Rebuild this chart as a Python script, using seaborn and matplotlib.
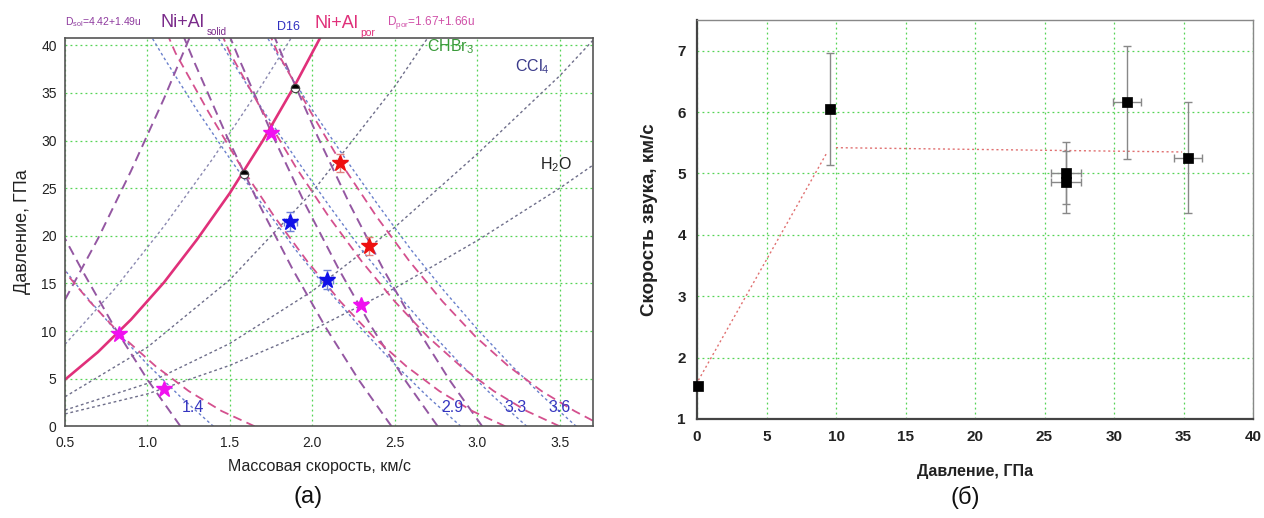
import matplotlib
matplotlib.use('Agg')
import matplotlib.pyplot as plt
from matplotlib.ticker import MultipleLocator
import seaborn as sns

# ---------------- (a) P-u diagram: u in km/s, P in GPa ----------------
# Ni+Al porous Hugoniot (solid pink line)
por_hug_u = [0.5, 0.7, 0.9, 1.1, 1.3, 1.5, 1.7, 1.9, 2.06]
por_hug_p = [4.9, 7.8, 11.2, 15.1, 19.6, 24.5, 30.0, 36.0, 41.2]

# Ni+Al solid Hugoniot (rising purple dashed)
sol_hug_u = [0.5, 0.7, 0.9, 1.1, 1.27]
sol_hug_p = [13.3, 19.7, 26.8, 34.4, 41.4]

# D16 Hugoniot and window liquids (rising dotted)
d16_hug_u = [0.5, 0.8, 1.1, 1.4, 1.7, 1.88]
d16_hug_p = [8.6, 14.4, 21.0, 28.2, 36.0, 41.0]
chbr3_u = [0.5, 1.0, 1.5, 2.0, 2.5, 2.72]
chbr3_p = [3.1, 8.3, 15.4, 24.6, 35.7, 41.3]
ccl4_u = [0.5, 1.0, 1.5, 2.0, 2.5, 3.0, 3.5, 3.7]
ccl4_p = [1.7, 4.5, 8.7, 14.2, 20.9, 28.6, 36.8, 40.5]
h2o_u = [0.5, 1.0, 1.5, 2.0, 2.5, 3.0, 3.5, 3.7]
h2o_p = [1.3, 3.4, 6.4, 10.1, 14.5, 19.5, 25.0, 27.4]

# D16 impactor curves for W = 1.4, 2.9, 3.3, 3.6 km/s (blue dotted)
d16_w14_u = [1.4, 1.2, 1.0, 0.8, 0.6, 0.5]
d16_w14_p = [0.0, 3.1, 6.5, 10.2, 14.2, 16.4]
d16_w29_u = [2.9, 2.7, 2.5, 2.3, 2.1, 1.9, 1.7, 1.5, 1.3, 1.1, 1.0]
d16_w33_u = [3.3, 3.1, 2.9, 2.7, 2.5, 2.3, 2.1, 1.9, 1.7, 1.5, 1.4]
d16_w36_u = [3.6, 3.4, 3.2, 3.0, 2.8, 2.6, 2.4, 2.2, 2.0, 1.8, 1.7]
d16_w_p = [0.0, 3.1, 6.5, 10.2, 14.2, 18.5, 23.2, 28.1, 33.2, 38.7, 41.6]

# Ni+Al solid release curves (purple dashed)
sol_r1_u = [1.2, 1.0, 0.8, 0.6, 0.5]
sol_r1_p = [0.0, 4.9, 10.4, 16.5, 19.7]
sol_r2_u = [2.48, 2.28, 2.08, 1.88, 1.68, 1.48, 1.28, 1.22]
sol_r3_u = [2.76, 2.56, 2.36, 2.16, 1.96, 1.76, 1.56, 1.50]
sol_r4_u = [3.03, 2.83, 2.63, 2.43, 2.23, 2.03, 1.83, 1.77]
sol_r_p = [0.0, 4.9, 10.4, 16.5, 23.2, 30.5, 38.4, 40.9]

# Ni+Al porous release curves (pink dashed)
por_r1_u = [1.65, 1.45, 1.25, 1.05, 0.85, 0.65, 0.5]
por_r1_p = [0.0, 1.6, 3.7, 6.3, 9.4, 13.1, 16.2]
por_r2_u = [3.17, 2.97, 2.77, 2.57, 2.37, 2.17, 1.97, 1.77, 1.57, 1.37, 1.17, 1.12]
por_r3_u = [3.50, 3.30, 3.10, 2.90, 2.70, 2.50, 2.30, 2.10, 1.90, 1.70, 1.50, 1.45]
por_r_p = [0.0, 1.6, 3.7, 6.3, 9.4, 13.1, 17.3, 22.0, 27.2, 33.0, 39.2, 41.2]
por_r4_u = [3.70, 3.59, 3.39, 3.19, 2.99, 2.79, 2.59, 2.39, 2.19, 1.99, 1.79, 1.74]
por_r4_p = [0.6, 1.6, 3.7, 6.3, 9.4, 13.1, 17.3, 22.0, 27.2, 33.0, 39.2, 41.2]

# measured points
mag_u = [0.825, 1.101, 1.751, 2.294]
mag_p = [9.66, 3.88, 30.8, 12.74]
blue_u = [1.866, 2.087]
blue_p = [21.46, 15.37]
blue_du = [0.04, 0.04]
blue_dp = [1.0, 1.0]
red_u = [2.167, 2.345]
red_p = [27.62, 18.94]
red_dp = [0.95, 0.95]
state_u = [1.584, 1.896]
state_p = [26.54, 35.57]

flyer_labels = ['1.4', '2.9', '3.3', '3.6']

# ---------------- (б) sound speed vs pressure ----------------
p_gpa = [0.05, 9.6, 26.55, 26.55, 30.95, 35.3]
c_kms = [1.53, 6.05, 5.01, 4.86, 6.16, 5.26]
p_err = [0, 0, 1.05, 1.05, 1.0, 1.0]
c_err = [0, 0.92, 0.5, 0.5, 0.92, 0.9]
fit1_x = [0.1, 9.3]
fit1_y = [1.63, 5.32]
fit2_x = [10.0, 34.9]
fit2_y = [5.42, 5.35]

sns.set_theme(style='white')
plt.rcParams['font.family'] = ['Liberation Sans', 'DejaVu Sans']
plt.rcParams['mathtext.fontset'] = 'custom'
plt.rcParams['mathtext.rm'] = 'Liberation Sans'

W, H = 1264, 518
fig = plt.figure(figsize=(W / 100, H / 100), dpi=100)
fig.patch.set_facecolor('white')


def px(x, y):
    return x / W, 1 - y / H


def curve(ax, u, p, color, ls, lw):
    sns.lineplot(x=u, y=p, ax=ax, color=color, ls=ls, lw=lw,
                 sort=False, estimator=None, legend=False)


GRID = '#55d455'
PURPLE = '#9457a2'
PINK = '#d4508e'
BLUE_DOT = '#6a80cc'
GRAY_DOT = '#6e6e8a'

ax1 = fig.add_axes([65 / W, 1 - 426.3 / H, (592.7 - 65) / W, (426.3 - 37.7) / H])
ax1.set_xlim(0.5, 3.7)
ax1.set_ylim(0, 40.8)
ax1.xaxis.set_major_locator(MultipleLocator(0.5))
ax1.xaxis.set_minor_locator(MultipleLocator(0.25))
ax1.yaxis.set_major_locator(MultipleLocator(5))
ax1.yaxis.set_minor_locator(MultipleLocator(2.5))
ax1.grid(True, which='major', color=GRID, ls=(0, (1.5, 2.5)), lw=0.9)
ax1.tick_params(which='both', direction='in', length=4, labelsize=10,
                colors='#222222')
ax1.tick_params(axis='x', pad=7)
ax1.tick_params(axis='y', pad=6)
ax1.tick_params(which='minor', length=3)
for s in ax1.spines.values():
    s.set_color('#555555')
    s.set_linewidth(1.2)

dot = (0, (2, 2))
dash = (0, (5, 3))
for u, p in [(chbr3_u, chbr3_p), (ccl4_u, ccl4_p), (h2o_u, h2o_p)]:
    curve(ax1, u, p, GRAY_DOT, dot, 1.0)
curve(ax1, d16_hug_u, d16_hug_p, '#8a88b0', dot, 1.0)
curve(ax1, d16_w14_u, d16_w14_p, BLUE_DOT, dot, 1.0)
for u in [d16_w29_u, d16_w33_u, d16_w36_u]:
    curve(ax1, u, d16_w_p, BLUE_DOT, dot, 1.0)
curve(ax1, sol_hug_u, sol_hug_p, PURPLE, dash, 1.4)
curve(ax1, sol_r1_u, sol_r1_p, PURPLE, dash, 1.4)
for u in [sol_r2_u, sol_r3_u, sol_r4_u]:
    curve(ax1, u, sol_r_p, PURPLE, dash, 1.4)
curve(ax1, por_r1_u, por_r1_p, PINK, dash, 1.3)
for u in [por_r2_u, por_r3_u]:
    curve(ax1, u, por_r_p, PINK, dash, 1.3)
curve(ax1, por_r4_u, por_r4_p, PINK, dash, 1.3)
curve(ax1, por_hug_u, por_hug_p, '#e0307a', '-', 1.9)

ax1.errorbar(blue_u, blue_p, xerr=blue_du, yerr=blue_dp, fmt='none',
             ecolor='#7080d8', elinewidth=1, capsize=3, zorder=4)
ax1.errorbar(red_u, red_p, yerr=red_dp, fmt='none',
             ecolor='#e08080', elinewidth=1, capsize=3, zorder=4)
ax1.plot(mag_u, mag_p, ls='none', marker='*', ms=12, color='#f010f0', zorder=5)
ax1.plot(blue_u, blue_p, ls='none', marker='*', ms=12, color='#1010e8', zorder=5)
ax1.plot(red_u, red_p, ls='none', marker='*', ms=12, color='#ee1010', zorder=5)
ax1.plot(state_u, state_p, ls='none', marker='o', ms=6, fillstyle='top',
         color='black', markerfacecoloralt='white', mec='#444444', mew=0.8, zorder=5)

ax1.set_xlabel('Массовая скорость, км/с', fontsize=11.5, color='#222222')
ax1.xaxis.set_label_coords((319 - 65) / (592.7 - 65), -(466 - 426.3) / (426.3 - 37.7))
ax1.xaxis.label.set_va('center')
ax1.set_ylabel('Давление, ГПа', fontsize=13, color='#222222', labelpad=7)

# header labels of panel (a)
fig.text(*px(65, 25), r'D$_{\mathregular{sol}}$=4.42+1.49u', fontsize=7.5, color='#8e3a9e')
fig.text(*px(160, 27), 'Ni+Al', fontsize=13, color='#7a2a8a')
fig.text(*px(207, 35), 'solid', fontsize=7, color='#7a2a8a')
fig.text(*px(277, 30), 'D16', fontsize=9, color='#3030c0')
fig.text(*px(314, 28), 'Ni+Al', fontsize=13, color='#e0307a')
fig.text(*px(360, 36.5), 'por', fontsize=7.5, color='#e0307a')
fig.text(*px(387, 25), r'D$_{\mathregular{por}}$=1.67+1.66u', fontsize=8.5, color='#d050a8')

fig.text(*px(427, 51), r'CHBr$_\mathregular{3}$', fontsize=11.5, color='#3a9a3a')
fig.text(*px(515, 71), r'CCl$_\mathregular{4}$', fontsize=11.5, color='#3a3a8a')
fig.text(*px(540, 169), r'H$_\mathregular{2}$O', fontsize=11.5, color='#222222')
for lab, x in zip(flyer_labels, [182, 441, 504, 548]):
    fig.text(*px(x, 412), lab, fontsize=11.5, color='#3535c0')

# ---------------- panel (б) ----------------
ax2 = fig.add_axes([697 / W, 1 - 419 / H, (1253 - 697) / W, (419 - 20) / H])
ax2.set_xlim(0, 40)
ax2.set_ylim(1, 7.5)
ax2.xaxis.set_major_locator(MultipleLocator(5))
ax2.xaxis.set_minor_locator(MultipleLocator(2.5))
ax2.yaxis.set_major_locator(MultipleLocator(1))
ax2.yaxis.set_minor_locator(MultipleLocator(0.5))
ax2.grid(True, which='major', color=GRID, ls=(0, (1.5, 2.5)), lw=0.9)
ax2.tick_params(which='both', direction='out', length=4, labelsize=11,
                colors='#222222', pad=4)
ax2.tick_params(which='minor', length=2.5)
for lab in ax2.get_xticklabels() + ax2.get_yticklabels():
    lab.set_fontweight('bold')
for name, s in ax2.spines.items():
    s.set_color('#444444' if name in ('left', 'bottom') else '#888888')
    s.set_linewidth(1.6 if name in ('left', 'bottom') else 1.0)

curve(ax2, fit1_x, fit1_y, '#e07070', (0, (1.5, 2)), 1.0)
curve(ax2, fit2_x, fit2_y, '#e07070', (0, (1.5, 2)), 1.0)
ax2.errorbar(p_gpa, c_kms, xerr=p_err, yerr=c_err, fmt='none', ecolor='#888888',
             elinewidth=1, capsize=3, zorder=4)
sns.scatterplot(x=p_gpa, y=c_kms, ax=ax2, marker='s', s=42, color='black',
                edgecolor='black', zorder=5, legend=False, clip_on=False)

ax2.set_xlabel('Давление, ГПа', fontsize=11.5, fontweight='bold', color='#222222', labelpad=14)
ax2.set_ylabel('Скорость звука, км/с', fontsize=13.5, fontweight='bold', color='#222222', labelpad=14)

fig.text(*px(308, 497), '(а)', fontsize=17, ha='center', va='center', color='#111111')
fig.text(*px(965, 497), '(б)', fontsize=17, ha='center', va='center', color='#111111')

fig.savefig('out.png', dpi=100, facecolor='white')
